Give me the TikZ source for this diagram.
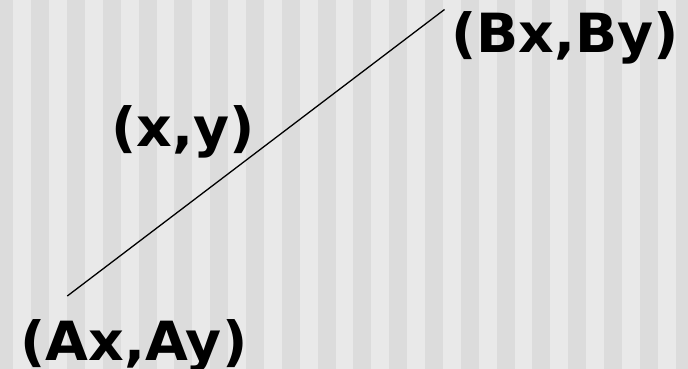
\documentclass[tikz,border=0pt]{standalone}
\usepackage{fontspec}
\setmainfont{DejaVu Sans}
\definecolor{stripedark}{RGB}{220,220,220}
\definecolor{stripelight}{RGB}{233,233,233}
\newcommand{\widetxt}[1]{\scalebox{1.025}[1]{#1}}
\begin{document}
\begin{tikzpicture}[x=1pt,y=-1pt,
  lbl/.style={anchor=base west,inner sep=0pt,font=\fontsize{54}{60}\selectfont\bfseries}]
\useasboundingbox (0,0) rectangle (688,369);
\fill[stripelight] (0,0) rectangle (688,369);
\foreach \k in {0,...,19} {
  \fill[stripedark] ({-4.6+35.8*\k},0) rectangle ({-4.6+35.8*\k+17.9},369);
}
\coordinate (A) at (67.3,296);
\coordinate (B) at (444.5,9.5);
\draw[line width=1.3pt] (A) -- (B);
\node[lbl] (la) at (20,360) {\widetxt{(Ax,Ay)}};
\node[lbl] (lm) at (111,146.7) {\widetxt{(x,y)}};
\node[lbl] (lb) at (451,53) {\widetxt{(Bx,By)}};
\end{tikzpicture}
\end{document}
